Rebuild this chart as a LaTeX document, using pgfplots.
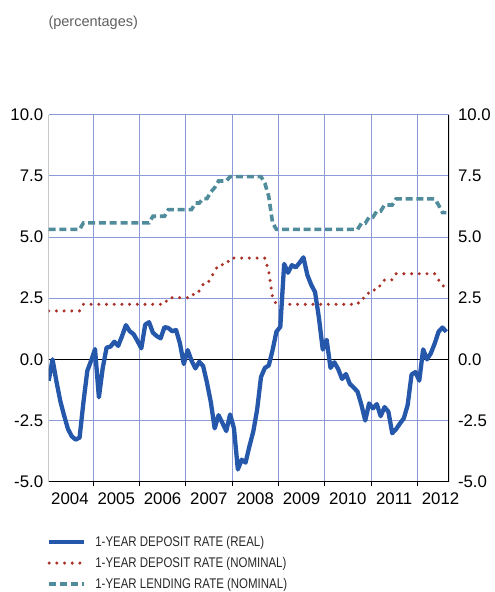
\documentclass[border=0pt]{standalone}
\usepackage{fontspec}
\setmainfont{Liberation Sans}
\newfontfamily\condfont[FakeStretch=0.82]{Liberation Sans}
\usepackage{pgfplots}
\usepackage{pgfplotstable}
\pgfplotsset{compat=1.18}

\definecolor{realblue}{RGB}{37,88,170}
\definecolor{nomred}{RGB}{170,50,40}
\definecolor{lendteal}{RGB}{80,140,156}
\definecolor{gridblue}{RGB}{140,155,215}
\definecolor{titlegray}{RGB}{95,95,95}
\definecolor{legtext}{RGB}{40,40,40}

% month index: 0 = Jan 2004, plotted at mid-month
\pgfplotstableread{
m real
0 -0.87
1 0.00
2 -0.90
3 -1.70
4 -2.30
5 -2.85
6 -3.15
7 -3.28
8 -3.20
9 -1.75
10 -0.47
11 -0.05
12 0.42
13 -1.55
14 -0.35
15 0.48
16 0.52
17 0.72
18 0.55
19 0.95
20 1.40
21 1.15
22 1.03
23 0.75
24 0.45
25 1.42
26 1.52
27 1.09
28 0.95
29 0.86
30 1.32
31 1.28
32 1.15
33 1.20
34 0.65
35 -0.19
36 0.38
37 -0.05
38 -0.37
39 -0.10
40 -0.27
41 -0.95
42 -1.75
43 -2.82
44 -2.28
45 -2.60
46 -2.93
47 -2.25
48 -2.82
49 -4.50
50 -4.10
51 -4.22
52 -3.55
53 -2.95
54 -2.05
55 -0.72
56 -0.35
57 -0.25
58 0.38
59 1.13
60 1.33
61 3.90
62 3.54
63 3.85
64 3.76
65 3.95
66 4.17
67 3.45
68 3.05
69 2.75
70 1.70
71 0.40
72 0.80
73 -0.35
74 -0.12
75 -0.40
76 -0.80
77 -0.60
78 -1.00
79 -1.15
80 -1.32
81 -1.85
82 -2.50
83 -1.80
84 -2.00
85 -1.83
86 -2.32
87 -1.95
88 -2.14
89 -3.02
90 -2.85
91 -2.62
92 -2.41
93 -1.86
94 -0.62
95 -0.52
96 -0.87
97 0.41
98 0.00
99 0.25
100 0.65
101 1.13
102 1.30
103 1.13
}\realrate

\pgfplotstableread{
m deposit lending
0 1.98 5.31
8 1.98 5.31
9 2.25 5.58
26 2.25 5.58
27 2.25 5.85
30 2.25 5.85
31 2.52 6.12
37 2.52 6.12
38 2.79 6.39
39 2.79 6.39
40 3.06 6.57
41 3.06 6.57
42 3.33 6.84
43 3.60 7.02
44 3.87 7.29
46 3.87 7.29
47 4.14 7.47
55 4.14 7.47
56 4.14 7.20
57 3.60 6.66
58 2.52 5.58
59 2.25 5.31
80 2.25 5.31
81 2.50 5.56
82 2.50 5.56
83 2.75 5.81
84 2.75 5.81
85 3.00 6.06
86 3.00 6.06
87 3.25 6.31
89 3.25 6.31
90 3.50 6.56
100 3.50 6.56
101 3.25 6.31
102 3.00 6.00
103 3.00 6.00
}\nominal

\begin{document}
\begin{tikzpicture}
\pgfplotsset{
  every axis/.append style={
    scale only axis,
    width=400.3pt, height=367pt,
    xmin=0.5, xmax=104.2, ymin=-5, ymax=10,
    axis line style={draw=none},
    tick label style={font=\fontsize{16.8}{18}\selectfont},
    major tick length=0pt,
  },
}
\begin{axis}[
  xtick={6,18,30,42,54,66,78,90,102},
  xticklabels={2004,2005,2006,2007,2008,2009,2010,2011,2012},
  xtick pos=bottom, ytick pos=left,
  x tick label style={yshift=-7.5pt},
  y tick label style={xshift=-2pt},
  extra x ticks={12,24,36,48,60,72,84,96},
  extra x tick labels={},
  extra x tick style={grid=major, major tick length=4.5pt, tick align=outside,
    tick style={black, line width=0.9pt}},
  ytick={-5,-2.5,2.5,5,7.5,10},
  yticklabels={-5.0,-2.5,2.5,5.0,7.5,10.0},
  ymajorgrids,
  grid style={gridblue, line width=0.9pt},
  extra y ticks={0},
  extra y tick labels={0.0},
  extra y tick style={grid=major, major grid style={black, line width=0.9pt}},
  legend image code/.code={\draw[#1] (0pt,0pt) -- (35pt,0pt);},
  reverse legend,
  legend cell align=left,
  legend style={draw=none, fill=none, at={(axis description cs:0,0)},
    anchor=north west, xshift=-1.7pt, yshift=-54.5pt,
    inner sep=0pt, outer sep=0pt, row sep=9.4pt, column sep=9pt,
    nodes={inner sep=0pt},
    font=\condfont\fontsize{14}{16}\selectfont, text=legtext},
]
\addplot[lendteal, line width=3.6pt, dash pattern=on 7pt off 3.8pt]
  table[x expr=\thisrow{m}+0.5, y=lending] {\nominal};
\addlegendentry{1-YEAR LENDING RATE (NOMINAL)}
\addplot[nomred, line width=3.4pt, line cap=round, dash pattern=on 0pt off 7.7pt]
  table[x expr=\thisrow{m}+0.5, y=deposit] {\nominal};
\addlegendentry{1-YEAR DEPOSIT RATE (NOMINAL)}
\addplot[realblue, line width=4.3pt, line join=round]
  table[x expr=\thisrow{m}+0.5, y=real] {\realrate};
\addlegendentry{1-YEAR DEPOSIT RATE (REAL)}
\draw[black!60, line width=1.3pt] (rel axis cs:0,0) -- (rel axis cs:0,1);
\draw[black, line width=1pt] (rel axis cs:0,0) -- (rel axis cs:1,0);
\coordinate (SW) at (rel axis cs:0,0);
\end{axis}
\begin{axis}[
  xtick=\empty,
  ytick={-5,-2.5,0,2.5,5,7.5,10},
  yticklabels={-5.0,-2.5,0.0,2.5,5.0,7.5,10.0},
  yticklabel pos=right, ytick pos=right,
  y tick label style={xshift=5.5pt},
]
\draw[black, line width=1.2pt] (rel axis cs:1,0) -- (rel axis cs:1,1);
\end{axis}
\node[anchor=base west, text=titlegray, font=\fontsize{14.5}{16}\selectfont,
  inner sep=0pt] at ([shift={(-0.4pt,455pt)}]SW) {(percentages)};
\path ([shift={(-48.7pt,-110.3pt)}]SW) rectangle ([shift={(446.3pt,481.7pt)}]SW);
\end{tikzpicture}
\end{document}
